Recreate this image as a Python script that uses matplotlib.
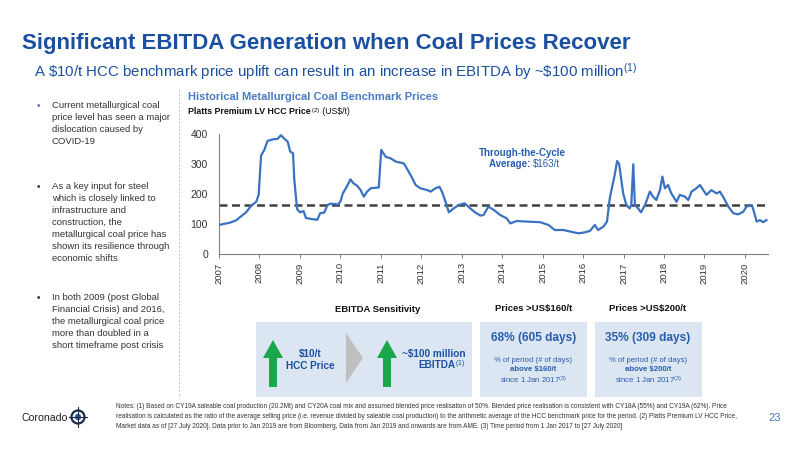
import numpy as np
import matplotlib
matplotlib.use("Agg")
import matplotlib.pyplot as plt
from matplotlib.patches import Rectangle, Polygon, Circle

plt.rcParams['font.family'] = ['Liberation Sans', 'DejaVu Sans']
plt.rcParams['mathtext.fontset'] = 'custom'
plt.rcParams['mathtext.rm'] = 'Liberation Sans'
plt.rcParams['mathtext.bf'] = 'Liberation Sans:bold'
plt.rcParams['mathtext.it'] = 'Liberation Sans:italic'

# Platts Premium LV HCC price (US$/t)
years = [2007.00, 2007.26, 2007.42, 2007.55, 2007.67, 2007.79, 2007.92, 2007.98,
         2008.04, 2008.12, 2008.20, 2008.33, 2008.45, 2008.53, 2008.61, 2008.70,
         2008.76, 2008.83, 2008.86, 2008.93, 2009.00, 2009.09, 2009.15, 2009.27,
         2009.43, 2009.50, 2009.60, 2009.68, 2009.76, 2009.93, 2010.00, 2010.06,
         2010.14, 2010.25, 2010.32, 2010.42, 2010.50, 2010.58, 2010.66, 2010.75,
         2010.95, 2011.01, 2011.12, 2011.24, 2011.37, 2011.57, 2011.69, 2011.78,
         2011.86, 2011.98, 2012.15, 2012.23, 2012.35, 2012.45, 2012.51, 2012.60,
         2012.68, 2012.80, 2012.92, 2013.07, 2013.21, 2013.33, 2013.46, 2013.54,
         2013.66, 2013.79, 2013.95, 2014.11, 2014.20, 2014.36, 2014.61, 2014.94,
         2015.14, 2015.30, 2015.51, 2015.71, 2015.88, 2016.04, 2016.17, 2016.29,
         2016.37, 2016.50, 2016.59, 2016.66, 2016.71, 2016.78, 2016.84, 2016.89,
         2016.94, 2016.99, 2017.07, 2017.15, 2017.19, 2017.24, 2017.28, 2017.36,
         2017.43, 2017.53, 2017.65, 2017.73, 2017.81, 2017.90, 2017.96, 2018.02,
         2018.10, 2018.18, 2018.31, 2018.39, 2018.52, 2018.60, 2018.68, 2018.80,
         2018.89, 2018.97, 2019.05, 2019.17, 2019.30, 2019.38, 2019.46, 2019.59,
         2019.71, 2019.83, 2019.96, 2020.04, 2020.17, 2020.21, 2020.29, 2020.37,
         2020.45, 2020.53]
prices = [97, 104, 112, 126, 139, 160, 174, 197,
          328, 347, 377, 382, 384, 396, 385, 374,
          341, 336, 250, 150, 139, 143, 120, 117,
          114, 136, 138, 163, 168, 165, 174, 202,
          220, 249, 236, 227, 213, 191, 208, 219,
          222, 347, 324, 319, 308, 302, 274, 252,
          230, 219, 213, 208, 219, 224, 208, 174,
          139, 152, 163, 169, 152, 139, 128, 130,
          158, 147, 130, 119, 102, 110, 108, 106,
          97, 80, 80, 74, 69, 72, 77, 97,
          80, 91, 108, 186, 219, 263, 310, 300,
          252, 202, 163, 152, 163, 299, 163, 152,
          139, 163, 208, 191, 180, 213, 258, 219,
          230, 202, 174, 197, 191, 180, 208, 219,
          230, 213, 197, 213, 202, 208, 191, 158,
          136, 132, 141, 158, 163, 147, 108, 113,
          106, 113]
avg_price = 163
year_ticks = list(range(2007, 2021))
y_ticks = [0, 100, 200, 300, 400]

bullets = [
    "Current metallurgical coal\nprice level has seen a major\ndislocation caused by\nCOVID-19",
    "As a key input for steel\nwhich is closely linked to\ninfrastructure and\nconstruction, the\nmetallurgical coal price has\nshown its resilience through\neconomic shifts",
    "In both 2009 (post Global\nFinancial Crisis) and 2016,\nthe metallurgical coal price\nmore than doubled in a\nshort timeframe post crisis",
]
bullet_y = [101, 182, 293]

stat_titles = ["Prices >US\\$160/t", "Prices >US\\$200/t"]
stat_values = ["68% (605 days)", "35% (309 days)"]
stat_levels = ["above \\$160/t", "above \\$200/t"]

notes = ("Notes: (1) Based on CY19A saleable coal production (20.2Mt) and CY20A coal mix and assumed blended price realisation of 50%. "
         "Blended price realisation is consistent with CY18A (55%) and CY19A (62%). Price\n"
         "realisation is calculated as the ratio of the average selling price (i.e. revenue divided by saleable coal production) to the "
         "arithmetic average of the HCC benchmark price for the period. (2) Platts Premium LV HCC Price,\n"
         "Market data as of [27 July 2020]. Data prior to Jan 2019 are from Bloomberg, Data from Jan 2019 and onwards are from AME. "
         "(3) Time period from 1 Jan 2017 to [27 July 2020]")

dark_blue = '#1B4FA0'
mid_blue = '#2A5DAB'
light_blue = '#4A7CC4'
box_col = '#DCE6F2'
green = '#1AA64A'

fig = plt.figure(figsize=(8, 4.5), dpi=100)

# overlay in pixel coordinates for slide furniture
bg = fig.add_axes([0, 0, 1, 1])
bg.set_xlim(0, 800)
bg.set_ylim(450, 0)
bg.axis('off')


def text_after(prev, s, **kw):
    # put s right after the text artist prev, on the same baseline
    fig.canvas.draw()
    bb = prev.get_window_extent()
    x1 = bg.transData.inverted().transform((bb.x1, bb.y0))[0]
    _, y = prev.get_position()
    return bg.text(x1, y, s, **kw)


bg.text(22, 43, "Significant EBITDA Generation when Coal Prices Recover", fontsize=16,
        fontweight='bold', color=dark_blue, va='center')
bg.text(34, 72, r"A \$10/t HCC benchmark price uplift can result in an increase in EBITDA by ~\$100 million$^{(1)}$",
        fontsize=10.8, color=dark_blue, va='center')

for i, (txt, yy) in enumerate(zip(bullets, bullet_y)):
    bg.text(37, yy, "•", fontsize=7, color=light_blue if i == 0 else '#333333', va='top')
    bg.text(52, yy, txt, fontsize=6.8, color='#333333', va='top', linespacing=1.42)

bg.plot([179, 179], [90, 398], color='#BFBFBF', lw=0.7, ls=(0, (2, 2)))

bg.text(188, 97, "Historical Metallurgical Coal Benchmark Prices", fontsize=8.0,
        fontweight='bold', color=light_blue, va='center')
t = bg.text(188, 114, "Platts Premium LV HCC Price", fontsize=6.3, fontweight='bold',
            color='#111111', va='baseline')
t = text_after(t, r"$^{(2)}$", fontsize=6.3, color='#111111', va='baseline')
text_after(t, r" (US\$/t)", fontsize=6.3, color='#111111', va='baseline')

bg.text(522, 153, "Through-the-Cycle", fontsize=7, fontweight='bold', color=mid_blue,
        ha='center', va='center')
t = bg.text(489, 167, "Average: ", fontsize=7, fontweight='bold', color=mid_blue, va='baseline')
text_after(t, r"\$163/t", fontsize=7, color=mid_blue, va='baseline')

# EBITDA sensitivity panel
bg.text(378, 309, "EBITDA Sensitivity", fontsize=6.8, fontweight='bold', color='#111111',
        ha='center', va='center')
bg.add_patch(Rectangle((256, 322), 216, 75, color=box_col, lw=0))
for cx in [273, 387]:
    bg.add_patch(Polygon([(cx - 4, 387), (cx + 4, 387), (cx + 4, 358), (cx + 10, 358),
                          (cx, 340), (cx - 10, 358), (cx - 4, 358)], closed=True,
                         color=green, lw=0))
bg.add_patch(Polygon([(346, 333), (363, 358), (346, 383)], closed=True, color='#BFBFBF', lw=0))
bg.text(310, 360, "\\$10/t\nHCC Price", fontsize=7.2, fontweight='bold', color=dark_blue,
        ha='center', va='center', linespacing=1.3)
bg.text(466, 354, r"~\$100 million", fontsize=7.2, fontweight='bold',
        color=dark_blue, ha='right', va='center')
t = bg.text(418, 368, "EBITDA", fontsize=7.2, fontweight='bold', color=dark_blue, va='baseline')
text_after(t, r"$^{(1)}$", fontsize=7.2, color=dark_blue, va='baseline')

for i, cx in enumerate([533.5, 648]):
    bg.text(cx, 309, stat_titles[i], fontsize=6.8, fontweight='bold', color='#111111',
            ha='center', va='center')
    bg.add_patch(Rectangle((cx - 53.5, 322), 107, 75, color=box_col, lw=0))
    bg.text(cx, 338, stat_values[i], fontsize=8.6, fontweight='bold', color=mid_blue,
            ha='center', va='center')
    bg.text(cx, 360, "% of period (# of days)", fontsize=5.6, color=mid_blue,
            ha='center', va='center')
    bg.text(cx, 370, stat_levels[i], fontsize=5.6, fontweight='bold', color=mid_blue,
            ha='center', va='center')
    bg.text(cx, 380, r"since 1 Jan 2017$^{(3)}$", fontsize=5.6, color=mid_blue,
            ha='center', va='center')

# footer
bg.text(22, 418, "Coronado", fontsize=7.6, color='#222222', va='center')
bg.add_patch(Circle((78, 417), 6.5, facecolor='white', edgecolor='#1B2B4A', lw=1.6))
bg.add_patch(Circle((78, 417), 3.2, facecolor='#2A5DAB', edgecolor='none'))
bg.plot([78, 78], [407, 427], color='#1B2B4A', lw=0.8)
bg.plot([69, 87], [417, 417], color='#1B2B4A', lw=0.8)
bg.text(116, 417, notes, fontsize=4.72, color='#333333', va='center', linespacing=1.6)
bg.text(768, 418, "23", fontsize=8, color=light_blue, va='center')

# price chart
ax = fig.add_axes([219 / 800, 1 - 254 / 450, 549 / 800, 120 / 450])
ax.set_facecolor('none')
ax.plot(years, prices, color='#3A72C0', lw=1.6, zorder=3)
ax.axhline(avg_price, color='#404040', lw=1.8, dashes=(3.2, 1.8), zorder=2)
ax.set_xlim(2007, 2020.57)
ax.set_ylim(0, 400)
ax.set_xticks(year_ticks)
ax.set_xticklabels([str(y) for y in year_ticks], rotation=90, fontsize=6.8, color='#333333')
ax.set_yticks(y_ticks)
ax.set_yticklabels([str(v) for v in y_ticks], fontsize=7.5, color='#333333')
ax.tick_params(axis='x', length=3, width=0.7, color='#808080', pad=3)
ax.tick_params(axis='y', length=0, pad=8)
for s in ['top', 'right']:
    ax.spines[s].set_visible(False)
for s in ['left', 'bottom']:
    ax.spines[s].set_color('#808080')
    ax.spines[s].set_linewidth(0.8)

fig.savefig("out.png", dpi=100)
